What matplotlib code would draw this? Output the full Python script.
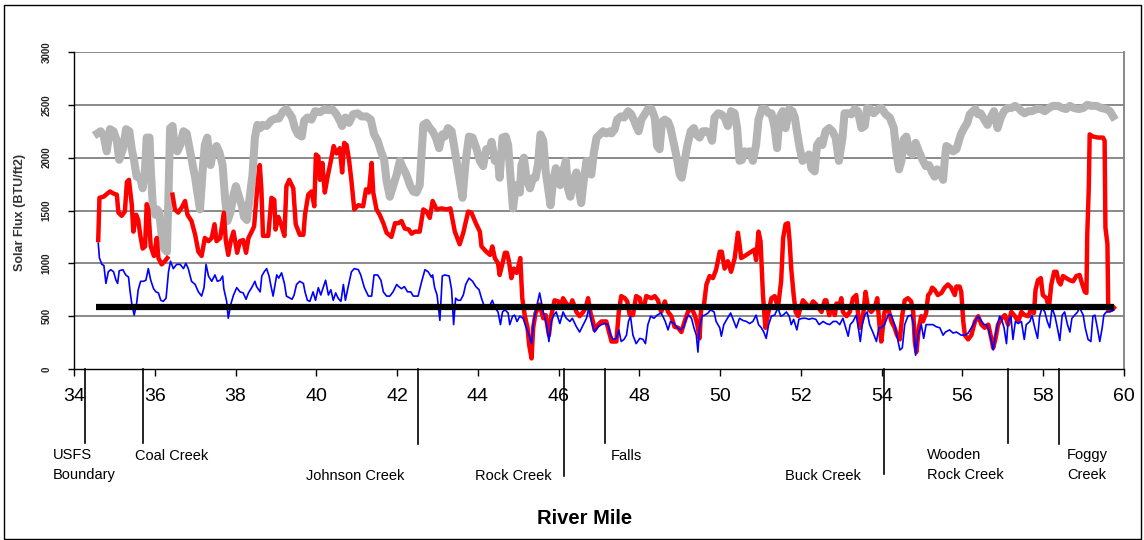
import matplotlib
matplotlib.use("Agg")
import matplotlib.pyplot as plt
import numpy as np

plt.rcParams['font.family'] = ['Liberation Sans', 'DejaVu Sans']

# gray series (upper, stippled band)
gray_mile = [34.58, 34.66, 34.74, 34.81, 34.89, 34.98, 35.06, 35.12, 35.21, 35.29, 35.37, 35.43, 35.49, 35.55, 35.64,
             35.70, 35.76, 35.80, 35.87, 35.90, 35.95, 36.01, 36.06, 36.11, 36.17, 36.23, 36.30, 36.34, 36.38, 36.44,
             36.50, 36.56, 36.63, 36.71, 36.79, 36.86, 36.94, 37.00, 37.05, 37.12, 37.19, 37.24, 37.30, 37.38, 37.45,
             37.53, 37.60, 37.68, 37.74, 37.80, 37.88, 37.95, 38.01, 38.07, 38.15, 38.21, 38.28, 38.34, 38.42, 38.48,
             38.54, 38.61, 38.66, 38.77, 38.88, 38.98, 39.07, 39.18, 39.26, 39.35, 39.40, 39.47, 39.55, 39.64, 39.70,
             39.78, 39.88, 39.97, 40.09, 40.21, 40.30, 40.39, 40.50, 40.58, 40.64, 40.72, 40.81, 40.91, 41.02, 41.12,
             41.24, 41.35, 41.43, 41.52, 41.60, 41.68, 41.74, 41.82, 41.90, 41.99, 42.07, 42.15, 42.23, 42.32, 42.40,
             42.48, 42.56, 42.61, 42.65, 42.73, 42.81, 42.88, 42.96, 43.04, 43.12, 43.18, 43.26, 43.35, 43.40, 43.47,
             43.54, 43.62, 43.70, 43.78, 43.87, 43.97, 44.05, 44.13, 44.21, 44.30, 44.34, 44.42, 44.50, 44.54, 44.61,
             44.69, 44.75, 44.81, 44.87, 44.94, 44.99, 45.04, 45.08, 45.14, 45.20, 45.29, 45.37, 45.43, 45.49, 45.55,
             45.62, 45.68, 45.74, 45.80, 45.86, 45.93, 45.99, 46.04, 46.11, 46.18, 46.23, 46.29, 46.36, 46.44, 46.51,
             46.56, 46.62, 46.69, 46.75, 46.81, 46.87, 46.94, 47.02, 47.10, 47.18, 47.27, 47.31, 47.39, 47.45, 47.54,
             47.62, 47.72, 47.80, 47.87, 47.92, 47.98, 48.05, 48.13, 48.21, 48.30, 48.38, 48.44, 48.50, 48.56, 48.63,
             48.71, 48.77, 48.86, 48.94, 49.00, 49.05, 49.12, 49.19, 49.27, 49.35, 49.41, 49.49, 49.57, 49.66, 49.74,
             49.80, 49.86, 49.95, 50.03, 50.11, 50.19, 50.27, 50.36, 50.42, 50.48, 50.54, 50.61, 50.67, 50.73, 50.81,
             50.89, 50.95, 51.03, 51.12, 51.20, 51.27, 51.35, 51.41, 51.47, 51.55, 51.62, 51.71, 51.79, 51.85, 51.90,
             51.97, 52.04, 52.12, 52.20, 52.26, 52.34, 52.40, 52.47, 52.53, 52.61, 52.70, 52.78, 52.86, 52.94, 53.03,
             53.08, 53.17, 53.25, 53.33, 53.41, 53.50, 53.58, 53.64, 53.72, 53.80, 53.91, 53.99, 54.10, 54.20, 54.30,
             54.36, 54.43, 54.49, 54.54, 54.61, 54.68, 54.76, 54.84, 54.92, 55.01, 55.09, 55.17, 55.25, 55.31, 55.37,
             55.44, 55.52, 55.56, 55.60, 55.68, 55.77, 55.85, 55.96, 56.04, 56.12, 56.18, 56.26, 56.32, 56.39, 56.45,
             56.54, 56.62, 56.70, 56.78, 56.87, 56.95, 57.03, 57.11, 57.21, 57.30, 57.39, 57.46, 57.54, 57.63, 57.72,
             57.83, 57.94, 58.04, 58.14, 58.24, 58.37, 58.47, 58.57, 58.66, 58.76, 58.88, 58.99, 59.09, 59.19, 59.32,
             59.44, 59.56, 59.65, 59.73]
gray_flux = [2230, 2250, 2200, 2060, 2270, 2250, 2160, 1980, 2080, 2270, 2250, 2080, 1970, 1820, 1810,
             1710, 1900, 2190, 2190, 1900, 1550, 1460, 1510, 1480, 1270, 1140, 1110, 1650, 2280, 2300,
             2080, 2060, 2120, 2250, 2230, 2090, 1930, 1810, 1680, 1510, 1900, 2120, 2190, 1930, 2060,
             2110, 2050, 1930, 1620, 1400, 1490, 1650, 1730, 1650, 1550, 1440, 1410, 1590, 1840, 2190,
             2310, 2280, 2310, 2300, 2350, 2370, 2370, 2440, 2460, 2410, 2380, 2280, 2220, 2200, 2350,
             2380, 2360, 2440, 2430, 2460, 2450, 2460, 2410, 2350, 2300, 2380, 2330, 2410, 2420, 2390,
             2390, 2360, 2220, 2160, 2060, 1980, 1780, 1630, 1730, 1840, 1970, 1900, 1840, 1740, 1680,
             1670, 1740, 2060, 2310, 2330, 2280, 2250, 2190, 2090, 2220, 2200, 2280, 2250, 2140, 1970,
             1810, 1620, 1970, 2200, 2190, 2080, 1970, 1920, 2080, 2090, 2150, 1970, 1970, 1810, 2190,
             2200, 2120, 1810, 1520, 1740, 1740, 1670, 1930, 2000, 1810, 1710, 1810, 1810, 1940, 2220,
             2160, 1870, 1710, 1550, 1770, 1900, 1840, 1740, 1870, 1970, 1710, 1630, 1780, 1860, 1680,
             1570, 1780, 1970, 1900, 1840, 2040, 2190, 2220, 2250, 2230, 2250, 2230, 2270, 2360, 2390,
             2380, 2440, 2410, 2350, 2300, 2250, 2360, 2410, 2460, 2460, 2380, 2110, 2080, 2340, 2360,
             2340, 2280, 2120, 1970, 1840, 1810, 1970, 2120, 2250, 2280, 2220, 2190, 2250, 2250, 2230,
             2160, 2380, 2420, 2410, 2380, 2300, 2440, 2420, 2280, 1970, 1980, 2060, 2050, 2060, 1970,
             2120, 2360, 2460, 2460, 2420, 2420, 2280, 2090, 2380, 2440, 2280, 2460, 2440, 2380, 2250,
             2090, 1970, 2000, 2030, 1900, 1870, 2120, 2160, 2120, 2250, 2280, 2250, 2190, 1970, 2190,
             2420, 2420, 2410, 2460, 2440, 2280, 2300, 2470, 2460, 2420, 2460, 2470, 2410, 2380, 2280,
             2060, 1890, 1970, 2170, 2200, 2060, 2030, 2140, 2060, 1980, 1920, 1930, 1860, 1820, 1890,
             1870, 1790, 1970, 2110, 2090, 2060, 2080, 2220, 2280, 2330, 2410, 2440, 2460, 2410, 2420,
             2360, 2310, 2380, 2440, 2280, 2380, 2440, 2470, 2470, 2490, 2470, 2440, 2420, 2440, 2440,
             2460, 2460, 2440, 2470, 2490, 2490, 2470, 2460, 2490, 2470, 2460, 2470, 2500, 2490, 2490,
             2470, 2460, 2440, 2390]

# red series (thick), gap near mile 36.4
red_mile = [34.60, 34.63, 34.73, 34.89, 34.98, 35.06, 35.10, 35.18, 35.26, 35.31, 35.36, 35.43, 35.47, 35.54, 35.59,
            35.64, 35.70, 35.76, 35.80, 35.84, 35.90, 35.98, 36.05, 36.09, 36.17, 36.25, 36.31, 36.37, 36.44, 36.50,
            36.58, 36.67, 36.75, 36.81, 36.91, 37.00, 37.08, 37.16, 37.24, 37.33, 37.41, 37.48, 37.53, 37.62, 37.71,
            37.76, 37.82, 37.88, 37.95, 37.99, 38.04, 38.11, 38.19, 38.26, 38.32, 38.40, 38.46, 38.51, 38.56, 38.60,
            38.64, 38.68, 38.81, 38.89, 38.96, 38.99, 39.06, 39.12, 39.21, 39.26, 39.33, 39.43, 39.49, 39.59, 39.68,
            39.72, 39.80, 39.88, 39.95, 39.99, 40.05, 40.09, 40.15, 40.21, 40.28, 40.36, 40.43, 40.50, 40.58, 40.64,
            40.69, 40.75, 40.81, 40.87, 40.94, 41.04, 41.16, 41.23, 41.30, 41.37, 41.41, 41.49, 41.57, 41.66, 41.74,
            41.86, 41.95, 42.03, 42.11, 42.19, 42.29, 42.36, 42.44, 42.56, 42.65, 42.73, 42.81, 42.88, 42.98, 43.10,
            43.22, 43.32, 43.43, 43.55, 43.64, 43.76, 43.84, 43.95, 44.05, 44.09, 44.21, 44.30, 44.36, 44.42, 44.50,
            44.54, 44.61, 44.67, 44.72, 44.77, 44.83, 44.89, 44.96, 44.99, 45.05, 45.10, 45.16, 45.23, 45.27, 45.33,
            45.37, 45.43, 45.53, 45.62, 45.68, 45.76, 45.82, 45.90, 45.99, 46.05, 46.11, 46.19, 46.28, 46.34, 46.44,
            46.52, 46.61, 46.67, 46.73, 46.79, 46.85, 46.89, 46.98, 47.06, 47.18, 47.27, 47.31, 47.43, 47.49, 47.55,
            47.64, 47.70, 47.76, 47.84, 47.92, 48.01, 48.05, 48.11, 48.17, 48.30, 48.38, 48.46, 48.54, 48.63, 48.71,
            48.79, 48.87, 48.96, 49.04, 49.12, 49.20, 49.29, 49.37, 49.43, 49.49, 49.53, 49.60, 49.66, 49.74, 49.82,
            49.90, 49.99, 50.04, 50.11, 50.19, 50.27, 50.36, 50.44, 50.48, 50.52, 50.61, 50.73, 50.85, 50.89, 50.95,
            51.00, 51.06, 51.12, 51.18, 51.27, 51.35, 51.43, 51.51, 51.56, 51.62, 51.68, 51.72, 51.76, 51.82, 51.87,
            51.93, 51.99, 52.05, 52.14, 52.22, 52.30, 52.38, 52.47, 52.51, 52.59, 52.63, 52.70, 52.75, 52.84, 52.88,
            52.96, 53.00, 53.04, 53.13, 53.21, 53.29, 53.37, 53.41, 53.46, 53.54, 53.60, 53.66, 53.74, 53.83, 53.89,
            53.95, 53.99, 54.07, 54.16, 54.24, 54.32, 54.38, 54.45, 54.51, 54.57, 54.65, 54.73, 54.78, 54.82, 54.86,
            54.92, 54.98, 55.02, 55.10, 55.15, 55.20, 55.25, 55.31, 55.39, 55.48, 55.56, 55.64, 55.72, 55.81, 55.85,
            55.93, 55.97, 56.02, 56.06, 56.14, 56.22, 56.31, 56.39, 56.47, 56.55, 56.64, 56.72, 56.76, 56.82, 56.88,
            56.97, 57.05, 57.13, 57.21, 57.30, 57.38, 57.46, 57.54, 57.63, 57.71, 57.77, 57.81, 57.87, 57.94, 57.99,
            58.08, 58.14, 58.20, 58.27, 58.33, 58.38, 58.43, 58.49, 58.57, 58.66, 58.74, 58.82, 58.90, 58.96, 59.03,
            59.07, 59.09, 59.13, 59.15, 59.23, 59.36, 59.48, 59.52, 59.54, 59.59, 59.61, 59.69, 59.75]
red_flux = [1220, 1620, 1630, 1680, 1660, 1650, 1480, 1450, 1490, 1770, 1790, 1560, 1300, 1460, 1410,
            1270, 1140, 1160, 1560, 1510, 1160, 1070, 1240, 1050, 990, 1020, 1050, np.nan, 1650, 1510,
            1480, 1530, 1590, 1460, 1400, 1270, 1110, 1070, 1240, 1210, 1240, 1370, 1210, 1240, 1480,
            1210, 1080, 1210, 1300, 1210, 1100, 1210, 1220, 1100, 1240, 1300, 1350, 1590, 1800, 1930,
            1700, 1260, 1260, 1620, 1600, 1320, 1440, 1380, 1260, 1730, 1790, 1710, 1370, 1270, 1270,
            1460, 1650, 1680, 1540, 2030, 2010, 1790, 1950, 1670, 1820, 1970, 2110, 2040, 2090, 1860,
            2140, 2120, 1980, 1780, 1510, 1550, 1540, 1700, 1670, 1950, 1670, 1510, 1460, 1380, 1290,
            1250, 1380, 1380, 1400, 1330, 1320, 1280, 1300, 1300, 1510, 1490, 1430, 1590, 1510, 1520,
            1510, 1520, 1300, 1180, 1290, 1490, 1480, 1380, 1300, 1160, 1110, 1080, 1160, 1050, 1000,
            890, 1000, 1100, 1100, 1020, 860, 950, 910, 950, 1050, 670, 510, 390, 230, 100,
            390, 530, 610, 480, 510, 320, 510, 650, 640, 580, 670, 620, 580, 650, 540,
            500, 540, 580, 670, 530, 450, 370, 420, 450, 450, 320, 260, 260, 540, 690,
            670, 640, 510, 510, 690, 670, 580, 580, 690, 670, 690, 650, 540, 640, 540,
            500, 400, 390, 350, 450, 540, 580, 510, 430, 290, 580, 610, 800, 880, 860,
            940, 1110, 1110, 950, 1020, 920, 1050, 1290, 1180, 1050, 1070, 1100, 1130, 1030, 1300,
            1210, 700, 390, 510, 670, 690, 580, 830, 1240, 1370, 1380, 1210, 950, 700, 540,
            500, 580, 650, 610, 580, 640, 610, 560, 540, 650, 650, 510, 580, 510, 620,
            610, 670, 540, 500, 540, 670, 700, 540, 390, 510, 730, 580, 540, 580, 670,
            390, 260, 540, 580, 450, 390, 320, 280, 510, 650, 670, 640, 540, 260, 160,
            390, 500, 450, 530, 700, 720, 770, 750, 700, 720, 770, 800, 770, 700, 780,
            780, 730, 450, 320, 280, 320, 450, 500, 420, 390, 420, 280, 200, 290, 420,
            480, 510, 420, 540, 500, 450, 540, 510, 500, 580, 530, 750, 840, 860, 700,
            670, 580, 800, 920, 920, 830, 800, 880, 860, 840, 830, 880, 890, 810, 730,
            720, 1270, 1740, 2220, 2200, 2190, 2190, 2160, 1340, 1180, 560, 560, 580]

# blue series (thin)
blue_mile = [34.60, 34.63, 34.69, 34.74, 34.79, 34.85, 34.91, 34.98, 35.04, 35.08, 35.12, 35.21, 35.28, 35.35, 35.39,
             35.43, 35.49, 35.55, 35.59, 35.65, 35.72, 35.78, 35.84, 35.90, 35.97, 36.03, 36.09, 36.15, 36.21, 36.28,
             36.34, 36.39, 36.46, 36.54, 36.63, 36.71, 36.77, 36.83, 36.91, 37.00, 37.08, 37.16, 37.22, 37.27, 37.33,
             37.41, 37.49, 37.55, 37.62, 37.68, 37.71, 37.78, 37.82, 37.88, 37.95, 38.03, 38.11, 38.19, 38.26, 38.32,
             38.40, 38.48, 38.52, 38.61, 38.65, 38.71, 38.77, 38.83, 38.88, 38.93, 39.02, 39.07, 39.14, 39.21, 39.26,
             39.35, 39.40, 39.45, 39.51, 39.59, 39.68, 39.72, 39.78, 39.84, 39.92, 39.98, 40.05, 40.11, 40.17, 40.23,
             40.30, 40.36, 40.42, 40.48, 40.54, 40.61, 40.67, 40.72, 40.79, 40.87, 40.94, 41.04, 41.10, 41.19, 41.29,
             41.37, 41.43, 41.52, 41.60, 41.66, 41.74, 41.82, 41.90, 41.99, 42.04, 42.11, 42.18, 42.26, 42.34, 42.40,
             42.52, 42.61, 42.69, 42.77, 42.85, 42.88, 42.93, 42.99, 43.06, 43.12, 43.18, 43.29, 43.35, 43.40, 43.45,
             43.51, 43.57, 43.64, 43.70, 43.78, 43.87, 43.95, 44.03, 44.09, 44.17, 44.28, 44.36, 44.42, 44.50, 44.56,
             44.61, 44.67, 44.75, 44.79, 44.86, 44.91, 44.97, 45.04, 45.12, 45.20, 45.27, 45.33, 45.38, 45.45, 45.53,
             45.57, 45.62, 45.70, 45.76, 45.82, 45.88, 45.94, 46.03, 46.11, 46.19, 46.28, 46.34, 46.44, 46.52, 46.61,
             46.69, 46.75, 46.81, 46.89, 46.98, 47.06, 47.14, 47.22, 47.29, 47.35, 47.43, 47.49, 47.55, 47.62, 47.68,
             47.73, 47.78, 47.84, 47.92, 48.01, 48.09, 48.15, 48.21, 48.28, 48.36, 48.44, 48.53, 48.58, 48.64, 48.71,
             48.77, 48.86, 48.94, 49.02, 49.10, 49.16, 49.22, 49.29, 49.35, 49.41, 49.45, 49.49, 49.55, 49.62, 49.70,
             49.76, 49.85, 49.90, 49.99, 50.03, 50.09, 50.18, 50.26, 50.34, 50.40, 50.48, 50.56, 50.65, 50.73, 50.81,
             50.89, 50.95, 51.02, 51.08, 51.14, 51.20, 51.27, 51.35, 51.43, 51.50, 51.56, 51.64, 51.71, 51.76, 51.82,
             51.90, 51.95, 52.04, 52.12, 52.20, 52.28, 52.37, 52.45, 52.55, 52.63, 52.71, 52.80, 52.88, 52.96, 53.04,
             53.11, 53.17, 53.22, 53.29, 53.37, 53.42, 53.47, 53.52, 53.58, 53.64, 53.70, 53.79, 53.87, 53.93, 53.99,
             54.07, 54.16, 54.24, 54.32, 54.38, 54.45, 54.51, 54.57, 54.65, 54.73, 54.79, 54.84, 54.90, 54.98, 55.04,
             55.10, 55.19, 55.27, 55.35, 55.44, 55.52, 55.58, 55.68, 55.77, 55.85, 55.97, 56.06, 56.14, 56.22, 56.31,
             56.39, 56.45, 56.54, 56.59, 56.65, 56.72, 56.76, 56.82, 56.87, 56.92, 56.97, 57.03, 57.09, 57.13, 57.20,
             57.25, 57.31, 57.38, 57.46, 57.53, 57.58, 57.67, 57.72, 57.79, 57.86, 57.91, 57.97, 58.04, 58.10, 58.16,
             58.22, 58.29, 58.35, 58.41, 58.47, 58.53, 58.60, 58.66, 58.71, 58.78, 58.85, 58.90, 58.99, 59.04, 59.11,
             59.18, 59.23, 59.28, 59.34, 59.40, 59.46, 59.50, 59.56, 59.65, 59.75]
blue_flux = [1190, 1050, 990, 980, 810, 920, 940, 920, 840, 810, 930, 940, 890, 870, 730,
             620, 510, 620, 750, 830, 830, 840, 950, 840, 760, 730, 720, 650, 640, 670,
             920, 1020, 950, 990, 990, 950, 1000, 950, 830, 800, 730, 690, 770, 990, 880,
             830, 890, 830, 840, 880, 760, 640, 480, 610, 700, 770, 730, 720, 660, 720,
             770, 830, 780, 730, 880, 920, 950, 880, 780, 690, 890, 860, 910, 810, 690,
             670, 660, 700, 800, 830, 810, 730, 650, 640, 730, 650, 770, 700, 770, 840,
             700, 750, 650, 720, 670, 640, 800, 650, 780, 920, 950, 940, 890, 770, 690,
             690, 890, 890, 840, 730, 690, 690, 730, 800, 780, 760, 780, 730, 730, 690,
             690, 830, 940, 920, 870, 890, 770, 700, 460, 880, 890, 880, 750, 420, 670,
             650, 650, 700, 800, 860, 830, 780, 750, 670, 580, 590, 650, 580, 540, 420,
             540, 560, 530, 420, 500, 510, 450, 500, 480, 390, 320, 240, 450, 580, 720,
             640, 540, 420, 260, 450, 510, 540, 430, 540, 480, 450, 480, 400, 350, 420,
             480, 580, 450, 350, 400, 420, 430, 420, 320, 280, 290, 370, 260, 280, 320,
             450, 500, 320, 240, 290, 280, 240, 420, 500, 480, 510, 530, 500, 450, 370,
             450, 430, 390, 370, 400, 480, 510, 480, 390, 320, 160, 390, 500, 510, 530,
             560, 540, 450, 390, 310, 420, 480, 530, 450, 390, 480, 460, 450, 430, 450,
             510, 420, 390, 350, 290, 420, 500, 510, 580, 500, 510, 540, 500, 420, 470,
             370, 470, 480, 480, 470, 480, 470, 420, 450, 430, 420, 450, 450, 420, 480,
             390, 310, 420, 450, 510, 390, 260, 420, 510, 540, 420, 340, 260, 390, 390,
             420, 510, 510, 420, 310, 180, 200, 420, 500, 510, 420, 130, 320, 420, 290,
             420, 420, 420, 400, 390, 320, 350, 370, 340, 350, 320, 320, 340, 390, 450,
             500, 460, 420, 420, 370, 260, 180, 320, 420, 500, 470, 390, 240, 450, 500,
             280, 450, 430, 450, 280, 420, 450, 510, 390, 290, 500, 580, 540, 450, 390,
             580, 500, 390, 270, 510, 540, 420, 350, 480, 510, 540, 580, 510, 390, 280,
             260, 500, 510, 390, 260, 390, 510, 540, 540, 560]

# black reference level
ref_mile = [34.55, 59.75]
ref_flux = [590, 590]

# landmarks below the axis
landmark_names = ['USFS\nBoundary', 'Coal Creek', 'Johnson Creek', 'Rock Creek', 'Falls',
                  'Buck Creek', 'Wooden\nRock Creek', 'Foggy\nCreek']
landmark_miles = [34.27, 35.70, 42.51, 46.13, 47.14, 54.06, 57.13, 58.40]

fig = plt.figure(figsize=(11.44, 5.40), dpi=100)
ax = fig.add_axes([74 / 1144, 1 - 369 / 540, 1050 / 1144, 317 / 540])

ax.plot(gray_mile, gray_flux, color='#b4b4b4', lw=5.8, solid_joinstyle='round', zorder=2)
ax.plot(red_mile, red_flux, color='#ff0000', lw=3.2, solid_joinstyle='round', zorder=3)
ax.plot(blue_mile, blue_flux, color='#0000ff', lw=1.2, zorder=4)
ax.plot(ref_mile, ref_flux, color='black', lw=4.5, solid_capstyle='butt', zorder=5)

ax.set_xlim(34, 60)
ax.set_ylim(0, 3000)
ax.set_xticks(np.arange(34, 61, 2))
ax.set_yticks(np.arange(0, 3001, 500))
for y in range(500, 3001, 500):
    ax.axhline(y, color='#808080', lw=1.3, zorder=1)

ax.spines['top'].set_visible(False)
ax.spines['right'].set_color('#808080')
ax.spines['right'].set_linewidth(1.3)
ax.spines['left'].set_linewidth(1.0)
ax.spines['bottom'].set_linewidth(1.0)

ax.tick_params(axis='x', direction='out', length=5, width=1, labelsize=14, pad=9)
ax.tick_params(axis='y', direction='out', length=4, width=1, labelsize=7, pad=12)
for lab in ax.get_yticklabels():
    lab.set_rotation(90)
    lab.set_fontweight('bold')
    lab.set_color('#222222')
    lab.set_va('center')

# landmark lines and names
line_ends = [-0.233, -0.233, -0.236, -0.338, -0.233, -0.332, -0.233, -0.236]
text_pos = [(53, 465), (135, 456), (306, 476), (475, 476), (611, 456), (785, 476), (927, 465), (1067, 465)]
for name, mile, yend, (tx, ty) in zip(landmark_names, landmark_miles, line_ends, text_pos):
    ax.plot([mile, mile], [0, yend], color='black', lw=1.2,
            transform=ax.get_xaxis_transform(), clip_on=False)
    fig.text(tx / 1144, 1 - ty / 540, name, fontsize=10.5, ha='left', va='center', linespacing=1.5)

fig.text(585 / 1144, 1 - 519 / 540, 'River Mile', fontsize=14.5, fontweight='bold', ha='center', va='center')
fig.text(20 / 1144, 1 - 212 / 540, 'Solar Flux (BTU/ft2)', fontsize=9, fontweight='bold',
         rotation=90, ha='center', va='center', color='#333333')

# outer frame
fig.add_artist(plt.Rectangle((4 / 1144, 1 / 540), 1137 / 1144, 534 / 540, transform=fig.transFigure,
                             fill=False, edgecolor='black', lw=1.0))

fig.savefig('out.png', dpi=100)
